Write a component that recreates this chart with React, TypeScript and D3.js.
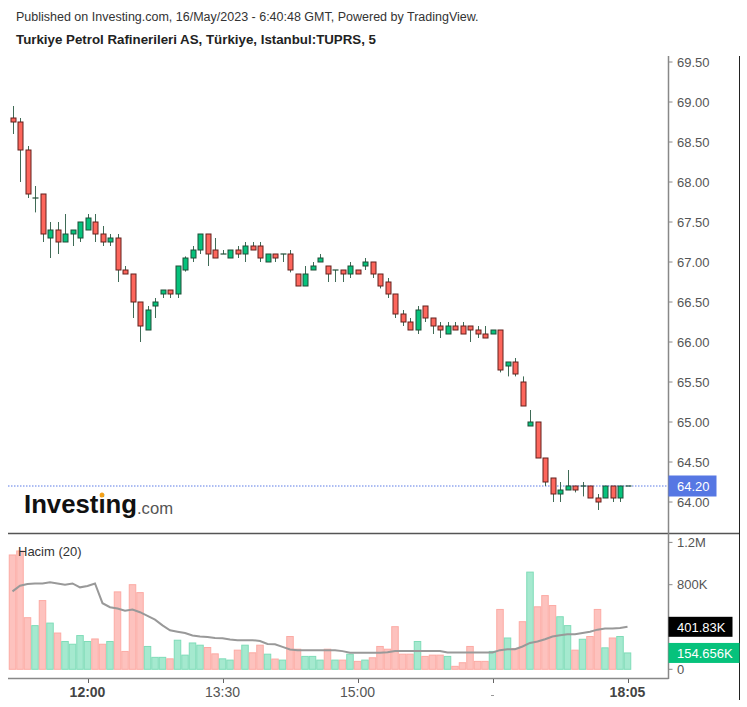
import React from "react";
import * as d3 from "d3";

// ---------- DATA ----------
const opens = [68.8, 68.75, 68.4, 67.8, 67.85, 67.3, 67.4, 67.25, 67.35, 67.3, 67.4, 67.5, 67.35, 67.25, 67.3, 66.9, 66.85, 66.5, 66.15, 66.45, 66.6, 66.65, 66.6, 66.9, 67.05, 67.15, 67.35, 67.15, 67.1, 67.05, 67.15, 67.1, 67.2, 67.2, 67.0, 67.1, 67.1, 67.1, 66.85, 66.7, 66.9, 67.0, 66.95, 66.9, 66.9, 66.85, 66.9, 66.95, 67.0, 66.85, 66.75, 66.6, 66.35, 66.25, 66.15, 66.45, 66.3, 66.2, 66.1, 66.2, 66.2, 66.2, 66.15, 66.1, 66.1, 66.15, 65.7, 65.75, 65.5, 64.95, 65.0, 64.55, 64.3, 64.1, 64.15, 64.2, 64.2, 64.2, 64.05, 64.05, 64.2, 64.05, 64.2];
const highs = [68.95, 68.8, 68.45, 67.95, 67.85, 67.5, 67.5, 67.6, 67.4, 67.5, 67.6, 67.6, 67.45, 67.35, 67.35, 66.95, 66.85, 66.5, 66.45, 66.55, 66.65, 66.65, 66.95, 67.07, 67.2, 67.35, 67.35, 67.3, 67.15, 67.15, 67.2, 67.25, 67.25, 67.25, 67.1, 67.1, 67.1, 67.15, 66.85, 66.95, 67.0, 67.1, 66.95, 66.9, 66.9, 67.0, 66.9, 67.05, 67.0, 66.85, 66.8, 66.6, 66.4, 66.3, 66.45, 66.45, 66.3, 66.25, 66.25, 66.25, 66.25, 66.2, 66.2, 66.2, 66.15, 66.15, 65.75, 65.8, 65.57, 65.15, 65.0, 64.55, 64.3, 64.25, 64.4, 64.2, 64.25, 64.2, 64.1, 64.2, 64.2, 64.2, 64.2];
const lows = [68.6, 68.0, 67.8, 67.62, 67.25, 67.05, 67.1, 67.25, 67.2, 67.25, 67.4, 67.25, 67.2, 67.2, 66.75, 66.85, 66.3, 66.0, 66.15, 66.3, 66.55, 66.55, 66.55, 66.88, 67.0, 67.1, 66.95, 67.05, 67.1, 67.05, 67.05, 67.0, 67.15, 67.0, 67.0, 67.0, 67.0, 66.87, 66.7, 66.7, 66.9, 67.0, 66.75, 66.75, 66.75, 66.8, 66.85, 66.9, 66.8, 66.67, 66.55, 66.3, 66.2, 66.15, 66.1, 66.25, 66.1, 66.05, 66.1, 66.15, 66.1, 66.0, 66.05, 66.05, 66.1, 65.62, 65.57, 65.57, 65.2, 64.95, 64.55, 64.2, 64.0, 64.0, 64.15, 64.12, 64.07, 64.05, 63.9, 64.05, 64.0, 64.0, 64.2];
const closes = [68.75, 68.4, 67.85, 67.8, 67.35, 67.4, 67.25, 67.35, 67.4, 67.5, 67.55, 67.35, 67.25, 67.3, 66.9, 66.85, 66.5, 66.2, 66.4, 66.5, 66.65, 66.6, 66.95, 67.05, 67.15, 67.35, 67.1, 67.05, 67.1, 67.15, 67.1, 67.2, 67.15, 67.05, 67.1, 67.05, 67.1, 66.9, 66.7, 66.85, 66.95, 67.05, 66.85, 66.9, 66.85, 66.95, 66.85, 67.0, 66.85, 66.7, 66.6, 66.35, 66.25, 66.15, 66.4, 66.3, 66.2, 66.15, 66.2, 66.15, 66.1, 66.15, 66.1, 66.05, 66.15, 65.65, 65.75, 65.6, 65.2, 65.0, 64.55, 64.25, 64.1, 64.15, 64.2, 64.15, 64.2, 64.05, 64.0, 64.2, 64.05, 64.2, 64.2];
// volume in thousands
const volumes = [1081, 1119, 488, 413, 650, 437, 343, 263, 237, 319, 263, 287, 237, 263, 732, 169, 800, 725, 216, 113, 113, 99, 275, 134, 249, 228, 206, 146, 99, 87, 181, 228, 156, 228, 143, 97, 87, 310, 190, 122, 122, 87, 190, 87, 87, 143, 75, 87, 109, 216, 190, 403, 143, 143, 263, 122, 134, 134, 122, 28, 62, 216, 75, 75, 169, 566, 296, 197, 450, 919, 591, 697, 603, 497, 413, 181, 284, 310, 566, 203, 296, 310, 154.656];
// 20-period volume moving average (thousands)
const volumeMA = [737, 791, 807, 812, 812, 822, 812, 800, 812, 775, 788, 812, 625, 587, 575, 553, 566, 540, 506, 469, 415, 369, 356, 343, 319, 310, 306, 296, 294, 281, 275, 275, 275, 268, 240, 237, 212, 188, 181, 181, 181, 181, 181, 181, 172, 156, 156, 156, 156, 156, 162, 174, 174, 174, 174, 174, 174, 174, 159, 159, 159, 159, 159, 159, 159, 181, 190, 190, 216, 249, 263, 284, 310, 322, 331, 331, 343, 356, 375, 385, 385, 390, 401.83];
const priceTicks = [64, 64.5, 65, 65.5, 66, 66.5, 67, 67.5, 68, 68.5, 69, 69.5];
const volTicks = [0, 800, 1200];
const volTickLabels = ["0", "800K", "1.2M"];
const timeTickIdx = [10, 28, 46, 64, 82];
const timeTickLabels = ["12:00", "13:30", "15:00", "-", "18:05"];
const timeTickBold = [true, false, false, false, true];
const lastPrice = 64.2;
const lastVol = 154.656;
const lastMA = 401.83;

const FONT = "Arial, 'Liberation Sans', sans-serif";

export default function App() {
  const n = opens.length;
  const x = d3.scaleBand<number>().domain(d3.range(n)).range([8.75, 631.25]).paddingInner(0);
  const cx = (i: number) => (x(i) as number) + x.bandwidth() / 2;
  const y = d3.scaleLinear().domain([64, 69.5]).range([502, 62]);
  const yv = d3.scaleLinear().domain([0, 800]).range([669.3, 584.7]);

  const maLine = d3
    .line<number>()
    .x((_, i) => cx(i))
    .y((d) => yv(d))
    .curve(d3.curveLinear)(volumeMA) as string;

  const axisX = 668.5;
  const upFill = "#06c27c";
  const upStroke = "#1f4d36";
  const dnFill = "#fd665c";
  const dnStroke = "#62201c";
  const wick = "#3f6b56";

  return (
    <svg
      width={747}
      height={707}
      style={{ position: "absolute", left: 0, top: 0, background: "#fff" }}
      fontFamily={FONT}
    >
      <rect x={0} y={0} width={747} height={707} fill="#fff" />
      {/* header */}
      <text x={16} y={21} fontSize={12.5} fill="#333">
        Published on Investing.com, 16/May/2023 - 6:40:48 GMT, Powered by TradingView.
      </text>
      <text x={16} y={44} fontSize={12.5} fontWeight="bold" fill="#222" textLength={360} lengthAdjust="spacingAndGlyphs">
        Turkiye Petrol Rafinerileri AS, Türkiye, Istanbul:TUPRS, 5
      </text>

      {/* logo */}
      <text x={24} y={513} fontSize={25} fontWeight="bold" fill="#111" textLength={113} lengthAdjust="spacingAndGlyphs">
        Investing
      </text>
      <text x={137} y={514} fontSize={17} fill="#555" textLength={36} lengthAdjust="spacingAndGlyphs">
        .com
      </text>
      <ellipse cx={102} cy={495} rx={2.3} ry={2.6} fill="#f4a11a" />

      {/* current price dotted line */}
      <line x1={8} x2={axisX} y1={y(lastPrice)} y2={y(lastPrice)} stroke="#5b7be6" strokeWidth={1} strokeDasharray="1.5 1.5" />

      {/* candles */}
      {opens.map((o, i) => {
        const c = closes[i];
        const up = c >= o;
        const top = y(Math.max(o, c));
        const bot = y(Math.min(o, c));
        const xc = Math.round(cx(i)) + 0.5;
        return (
          <g key={i}>
            <line x1={xc} x2={xc} y1={y(highs[i])} y2={y(lows[i])} stroke={wick} strokeWidth={1} />
            {bot - top < 1.5 ? (
              <line x1={xc - 3} x2={xc + 3} y1={top} y2={top} stroke={up ? upStroke : dnStroke} strokeWidth={1.2} />
            ) : (
              <rect
                x={xc - 2.5}
                y={top}
                width={5}
                height={bot - top}
                fill={up ? upFill : dnFill}
                stroke={up ? upStroke : dnStroke}
                strokeWidth={1}
              />
            )}
          </g>
        );
      })}

      {/* separator between panels */}
      <line x1={8} x2={739} y1={533.5} y2={533.5} stroke="#555" strokeWidth={1.5} />

      {/* volume */}
      {volumes.map((v, i) => {
        const up = closes[i] >= opens[i];
        return (
          <rect
            key={i}
            x={(x(i) as number) + 0.5}
            y={yv(v)}
            width={x.bandwidth() - 1}
            height={yv(0) - yv(v)}
            fill={up ? "#a5e9cf" : "#fdc2be"}
            stroke={up ? "#7fdcb8" : "#fcaaa4"}
            strokeWidth={1}
          />
        );
      })}
      <path d={maLine} fill="none" stroke="#999" strokeWidth={2} />
      <text x={18} y={555.5} fontSize={13} fill="#333">
        Hacim (20)
      </text>

      {/* time axis */}
      <line x1={8} x2={axisX} y1={678.5} y2={678.5} stroke="#888" strokeWidth={1.5} />
      {timeTickIdx.map((ti, k) => (
        <g key={k}>
          <line x1={Math.round(cx(ti)) + 0.5} x2={Math.round(cx(ti)) + 0.5} y1={679} y2={683} stroke="#666" strokeWidth={1} />
          {timeTickLabels[k] === "-" ? (
            <line x1={cx(ti) - 1.5} x2={cx(ti) + 1.5} y1={695.5} y2={695.5} stroke="#999" strokeWidth={1} />
          ) : (
            <text
              x={cx(ti)}
              y={696.5}
              fontSize={14}
              textAnchor="middle"
              fontWeight={timeTickBold[k] ? "bold" : "normal"}
              fill={timeTickBold[k] ? "#444" : "#555"}
            >
              {timeTickLabels[k]}
            </text>
          )}
        </g>
      ))}

      {/* right axis */}
      <line x1={axisX} x2={axisX} y1={56} y2={679} stroke="#888" strokeWidth={1.5} />
      <line x1={739.5} x2={739.5} y1={56} y2={700} stroke="#222" strokeWidth={1} />
      {priceTicks.map((p) => (
        <g key={p}>
          <line x1={axisX} x2={axisX + 4} y1={y(p)} y2={y(p)} stroke="#888" strokeWidth={1} />
          <text x={677} y={y(p) + 4.5} fontSize={13} fill="#555">
            {d3.format(".2f")(p)}
          </text>
        </g>
      ))}
      {volTicks.map((v, k) => (
        <g key={v}>
          <line x1={axisX} x2={axisX + 4} y1={yv(v)} y2={yv(v)} stroke="#888" strokeWidth={1} />
          <text x={677} y={yv(v) + 4.5} fontSize={13} fill="#555">
            {volTickLabels[k]}
          </text>
        </g>
      ))}

      {/* last price label */}
      <rect x={axisX} y={y(lastPrice) - 10.5} width={48} height={21} fill="#5677e3" />
      <text x={677} y={y(lastPrice) + 5} fontSize={13} fill="#fff">
        {d3.format(".2f")(lastPrice)}
      </text>
      {/* MA label */}
      <rect x={axisX} y={yv(lastMA) - 10} width={64} height={20} fill="#000" />
      <text x={677} y={yv(lastMA) + 5} fontSize={13} fill="#fff">
        {lastMA}K
      </text>
      {/* last volume label */}
      <rect x={axisX} y={yv(lastVol) - 10} width={71} height={20} fill="#06c27c" />
      <text x={677} y={yv(lastVol) + 5} fontSize={13} fill="#fff">
        {lastVol}K
      </text>
    </svg>
  );
}
